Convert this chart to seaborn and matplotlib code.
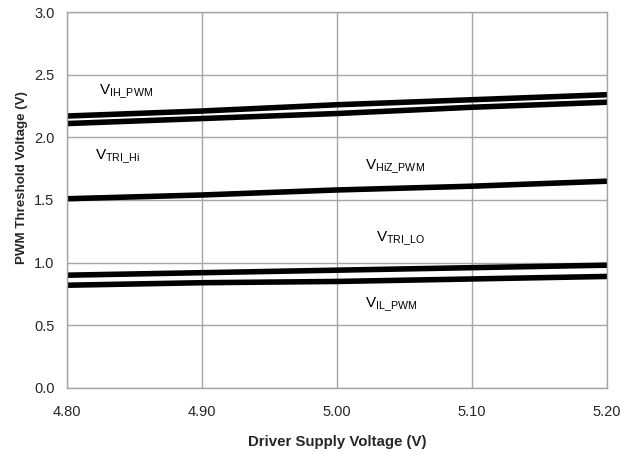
import matplotlib
matplotlib.use("Agg")
import matplotlib.pyplot as plt
import seaborn as sns
import pandas as pd

# Values
supply_v = [4.80, 4.90, 5.00, 5.10, 5.20]
v_ih_pwm = [2.17, 2.21, 2.26, 2.30, 2.34]
v_tri_hi = [2.11, 2.15, 2.19, 2.24, 2.28]
v_hiz_pwm = [1.51, 1.54, 1.58, 1.61, 1.65]
v_tri_lo = [0.90, 0.92, 0.94, 0.96, 0.98]
v_il_pwm = [0.82, 0.84, 0.85, 0.87, 0.89]

x_ticks = [4.80, 4.90, 5.00, 5.10, 5.20]
y_ticks = [0.0, 0.5, 1.0, 1.5, 2.0, 2.5, 3.0]

series = {
    "VIH_PWM": v_ih_pwm,
    "VTRI_HI": v_tri_hi,
    "VHIZ_PWM": v_hiz_pwm,
    "VTRI_LO": v_tri_lo,
    "VIL_PWM": v_il_pwm,
}
df = pd.concat(
    [pd.DataFrame({"vdd": supply_v, "vth": vals, "curve": name}) for name, vals in series.items()],
    ignore_index=True,
)

sns.set_style("white")
plt.rcParams["font.family"] = ["Liberation Sans", "DejaVu Sans"]
plt.rcParams["mathtext.fontset"] = "custom"
plt.rcParams["mathtext.rm"] = "Liberation Sans"
plt.rcParams["mathtext.it"] = "Liberation Sans"

fig = plt.figure(figsize=(6.21, 4.53), dpi=100)
ax = fig.add_axes([0.108, 0.1435, 0.869, 0.83])

sns.lineplot(data=df, x="vdd", y="vth", units="curve", estimator=None,
             color="black", linewidth=4, ax=ax, legend=False)

ax.set_xlim(4.80, 5.20)
ax.set_ylim(0, 3.0)
ax.set_xticks(x_ticks)
ax.set_xticklabels([f"{v:.2f}" for v in x_ticks], fontsize=10.5)
ax.set_yticks(y_ticks)
ax.set_yticklabels([f"{v:.1f}" for v in y_ticks], fontsize=10.5)
ax.tick_params(axis="x", pad=12, length=0)
ax.tick_params(axis="y", pad=9, length=0)
ax.grid(True, color="#a6a6a6", linewidth=1)
for s in ax.spines.values():
    s.set_color("#a6a6a6")
    s.set_linewidth(1)

ax.set_xlabel("Driver Supply Voltage (V)", fontsize=10.8, fontweight="bold", labelpad=12)
ax.set_ylabel("PWM Threshold Voltage (V)", fontsize=9.6, fontweight="bold")
ax.yaxis.set_label_coords(-0.073, 0.56)

label_kw = dict(fontsize=11, color="black", ha="left", va="center")
ax.text(4.824, 2.36, r"V$_{\mathrm{IH\_PWM}}$", **label_kw)
ax.text(4.821, 1.84, r"V$_{\mathrm{TRI\_Hi}}$", **label_kw)
ax.text(5.021, 1.76, r"V$_{\mathrm{HiZ\_PWM}}$", **label_kw)
ax.text(5.029, 1.19, r"V$_{\mathrm{TRI\_LO}}$", **label_kw)
ax.text(5.021, 0.66, r"V$_{\mathrm{IL\_PWM}}$", **label_kw)

fig.savefig("out.png", dpi=100)
